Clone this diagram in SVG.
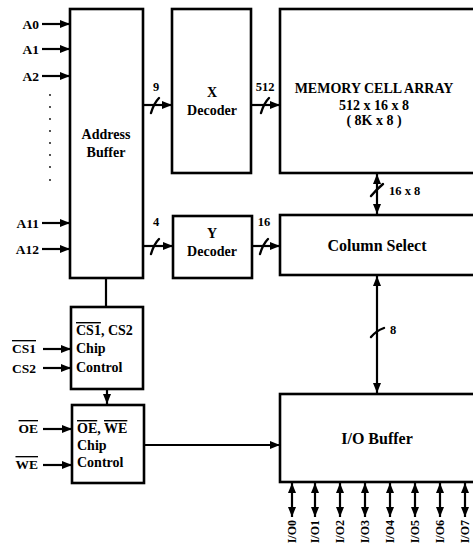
<svg xmlns="http://www.w3.org/2000/svg" width="473" height="545" viewBox="0 0 473 545">
<style>
.box{fill:#fff;stroke:#000;stroke-width:2.6}
.ln{fill:none;stroke:#000;stroke-width:2.2}
.sl{fill:none;stroke:#000;stroke-width:2.4;stroke-linecap:round}
text{font-family:"Liberation Serif","Times New Roman",serif;fill:#000}
.lb{font-size:13.5px;font-weight:bold}
.bx{font-size:14px;font-weight:bold}
.big{font-size:16px}
.num{font-size:12.5px;font-weight:bold}
.pin{font-size:12px;font-weight:bold}
.ov{text-decoration:overline}
</style>
<defs>
<marker id="ah" viewBox="0 0 10 8" refX="10" refY="4" markerWidth="10" markerHeight="8" markerUnits="userSpaceOnUse" orient="auto-start-reverse">
<path d="M0,0 L10,4 L0,8 z" fill="#000"/>
</marker>
</defs>
<rect width="473" height="545" fill="#fff"/>

<g id="connectors">
<line class="ln" x1="42" y1="24" x2="70" y2="24" marker-end="url(#ah)"/>
<line class="ln" x1="42" y1="49" x2="70" y2="49" marker-end="url(#ah)"/>
<line class="ln" x1="42" y1="76" x2="70" y2="76" marker-end="url(#ah)"/>
<line class="ln" x1="42" y1="223" x2="70" y2="223" marker-end="url(#ah)"/>
<line class="ln" x1="42" y1="249" x2="70" y2="249" marker-end="url(#ah)"/>
<line class="ln" x1="43" y1="349" x2="71" y2="349" marker-end="url(#ah)"/>
<line class="ln" x1="43" y1="368" x2="71" y2="368" marker-end="url(#ah)"/>
<line class="ln" x1="43" y1="429" x2="72" y2="429" marker-end="url(#ah)"/>
<line class="ln" x1="43" y1="465" x2="72" y2="465" marker-end="url(#ah)"/>
<line class="ln" x1="143" y1="105" x2="172" y2="105" marker-end="url(#ah)"/>
<path class="sl" d="M151,113 Q154,103 159,98"/>
<line class="ln" x1="143" y1="246" x2="173" y2="246" marker-end="url(#ah)"/>
<path class="sl" d="M151,254 Q154,244 159,239"/>
<line class="ln" x1="251" y1="105" x2="280" y2="105" marker-end="url(#ah)"/>
<path class="sl" d="M261,113 Q264,103 269,98"/>
<line class="ln" x1="252" y1="246" x2="280" y2="246" marker-end="url(#ah)"/>
<path class="sl" d="M260,254 Q263,244 268,239"/>
<line class="ln" x1="377" y1="174" x2="377" y2="214" marker-start="url(#ah)" marker-end="url(#ah)"/>
<path class="sl" d="M371,196 Q376,190 383,184"/>
<line class="ln" x1="377" y1="276" x2="377" y2="393" marker-start="url(#ah)" marker-end="url(#ah)"/>
<path class="sl" d="M371,337 Q376,331 384,328"/>
<line class="ln" x1="106" y1="278" x2="106" y2="307"/>
<line class="ln" x1="107" y1="390" x2="107" y2="404" marker-end="url(#ah)"/>
<line class="ln" x1="144" y1="445" x2="280" y2="445" marker-end="url(#ah)"/>
<g>
<line class="ln" x1="292" y1="483" x2="292" y2="517" marker-start="url(#ah)" marker-end="url(#ah)"/>
<line class="ln" x1="315" y1="483" x2="315" y2="517" marker-start="url(#ah)" marker-end="url(#ah)"/>
<line class="ln" x1="340" y1="483" x2="340" y2="517" marker-start="url(#ah)" marker-end="url(#ah)"/>
<line class="ln" x1="365" y1="483" x2="365" y2="517" marker-start="url(#ah)" marker-end="url(#ah)"/>
<line class="ln" x1="390" y1="483" x2="390" y2="517" marker-start="url(#ah)" marker-end="url(#ah)"/>
<line class="ln" x1="415" y1="483" x2="415" y2="517" marker-start="url(#ah)" marker-end="url(#ah)"/>
<line class="ln" x1="440" y1="483" x2="440" y2="517" marker-start="url(#ah)" marker-end="url(#ah)"/>
<line class="ln" x1="465" y1="483" x2="465" y2="517" marker-start="url(#ah)" marker-end="url(#ah)"/>
</g>
</g>

<g id="inputs">
<text class="lb" x="39" y="29" text-anchor="end">A0</text>
<text class="lb" x="39" y="54" text-anchor="end">A1</text>
<text class="lb" x="39" y="81" text-anchor="end">A2</text>
<g fill="#000">
<circle cx="50" cy="95" r="0.9"/><circle cx="50" cy="107" r="0.9"/><circle cx="50" cy="119" r="0.9"/><circle cx="50" cy="131" r="0.9"/>
<circle cx="50" cy="143" r="0.9"/><circle cx="50" cy="155" r="0.9"/><circle cx="50" cy="167" r="0.9"/><circle cx="50" cy="180" r="0.9"/>
</g>
<text class="lb" x="39" y="228" text-anchor="end">A11</text>
<text class="lb" x="39" y="254" text-anchor="end">A12</text>
<text class="lb ov" x="36" y="353" text-anchor="end">CS1</text>
<text class="lb" x="36" y="373" text-anchor="end">CS2</text>
<text class="lb ov" x="38" y="433" text-anchor="end">OE</text>
<text class="lb ov" x="38" y="469" text-anchor="end">WE</text>
</g>

<g id="address-buffer">
<rect class="box" x="70" y="9" width="73" height="269"/>
<text class="bx" x="106" y="139" text-anchor="middle">Address</text>
<text class="bx" x="106" y="157" text-anchor="middle">Buffer</text>
</g>
<g id="x-decoder">
<rect class="box" x="172" y="9" width="79" height="164"/>
<text class="bx" x="212" y="97" text-anchor="middle">X</text>
<text class="bx" x="212" y="115" text-anchor="middle">Decoder</text>
<text class="num" x="156" y="91" text-anchor="middle">9</text>
</g>
<g id="memory-array">
<rect class="box" x="280" y="9" width="200" height="164"/>
<text class="bx" x="374" y="93" text-anchor="middle">MEMORY CELL ARRAY</text>
<text class="bx" x="374" y="110" text-anchor="middle">512 x 16 x 8</text>
<text class="bx" x="374" y="125" text-anchor="middle">( 8K x 8 )</text>
<text class="num" x="265" y="91" text-anchor="middle">512</text>
</g>
<g id="y-decoder">
<rect class="box" x="173" y="216" width="79" height="62"/>
<text class="bx" x="212" y="238" text-anchor="middle">Y</text>
<text class="bx" x="212" y="256" text-anchor="middle">Decoder</text>
<text class="num" x="156" y="226" text-anchor="middle">4</text>
<text class="num" x="264" y="226" text-anchor="middle">16</text>
</g>
<g id="column-select">
<rect class="box" x="280" y="215" width="200" height="60"/>
<text class="bx big" x="377" y="251" text-anchor="middle">Column Select</text>
<text class="num" x="389" y="195">16 x 8</text>
<text class="num" x="390" y="334">8</text>
</g>
<g id="cs-control">
<rect class="box" x="71" y="307" width="72" height="82"/>
<text class="bx" x="76" y="335"><tspan class="ov">CS1</tspan>, CS2</text>
<text class="bx" x="76" y="353">Chip</text>
<text class="bx" x="76" y="372">Control</text>
</g>
<g id="oe-control">
<rect class="box" x="72" y="405" width="72" height="78"/>
<text class="bx" x="77" y="433"><tspan class="ov">OE</tspan>, <tspan class="ov">WE</tspan></text>
<text class="bx" x="77" y="450">Chip</text>
<text class="bx" x="77" y="467">Control</text>
</g>
<g id="io-buffer">
<rect class="box" x="280" y="394" width="200" height="88"/>
<text class="bx big" x="377" y="444" text-anchor="middle">I/O Buffer</text>
<text class="pin" transform="translate(296,520) rotate(-90)" text-anchor="end">I/O0</text>
<text class="pin" transform="translate(319,520) rotate(-90)" text-anchor="end">I/O1</text>
<text class="pin" transform="translate(344,520) rotate(-90)" text-anchor="end">I/O2</text>
<text class="pin" transform="translate(369,520) rotate(-90)" text-anchor="end">I/O3</text>
<text class="pin" transform="translate(394,520) rotate(-90)" text-anchor="end">I/O4</text>
<text class="pin" transform="translate(419,520) rotate(-90)" text-anchor="end">I/O5</text>
<text class="pin" transform="translate(444,520) rotate(-90)" text-anchor="end">I/O6</text>
<text class="pin" transform="translate(469,520) rotate(-90)" text-anchor="end">I/O7</text>
</g>
</svg>
